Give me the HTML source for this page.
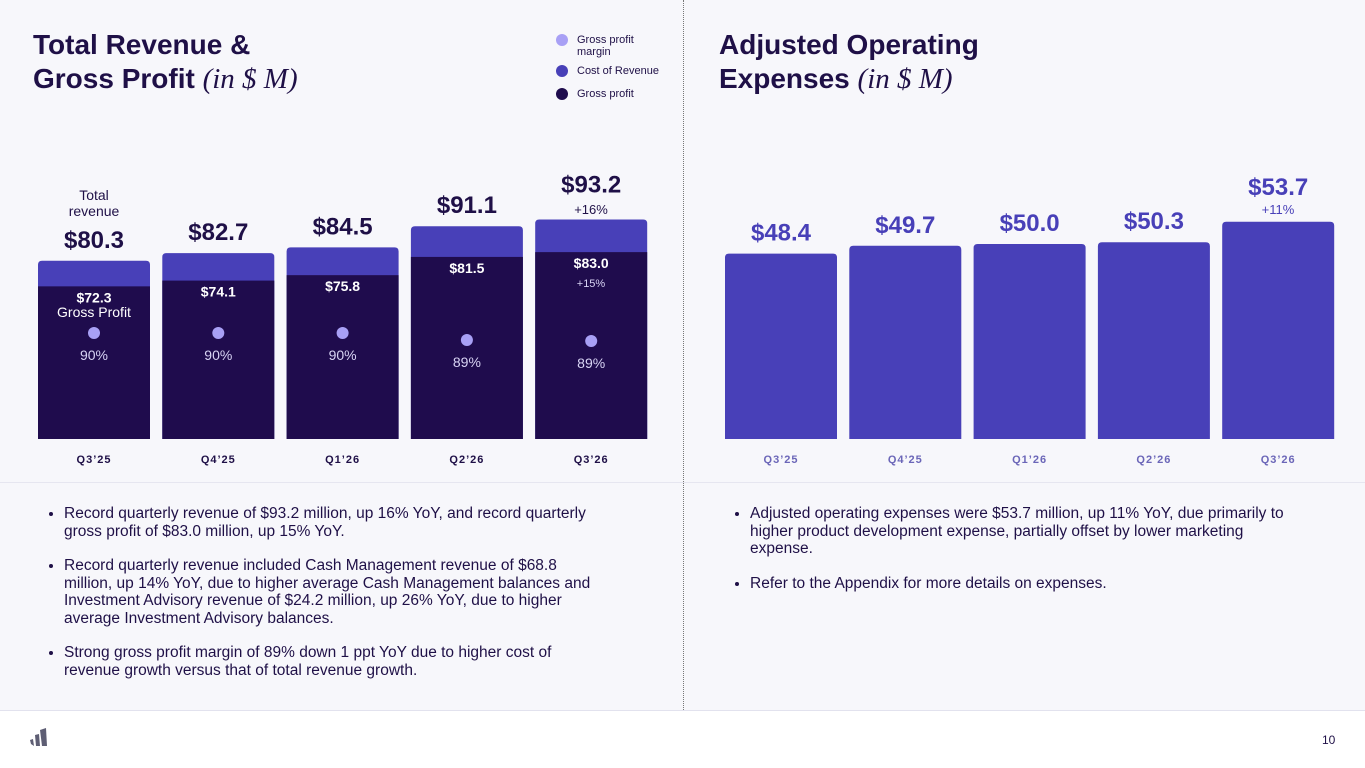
<!DOCTYPE html>
<html><head><meta charset="utf-8"><style>
body{margin:0;width:1365px;height:768px;overflow:hidden;background:#fff;font-family:"Liberation Sans",sans-serif;position:relative}
.top{position:absolute;left:0;top:0;width:1365px;height:710px;background:#f7f7fb;border-bottom:1px solid #e2e2ee}
.t{position:absolute;font-weight:bold;font-size:28px;line-height:34px;color:#1f1047;letter-spacing:0}
.t i{font-family:"Liberation Serif",serif;font-weight:normal;font-size:29px}
.bul{position:absolute;font-size:15.5px;line-height:17.5px;color:#1f1047;margin:0;padding-left:28px}
.bul li{margin-bottom:17px}
.lg{position:absolute;font-size:11px;color:#1f1047;line-height:12px}
.dot{position:absolute;width:12px;height:12px;border-radius:50%}
</style></head><body>
<div class="top"></div>
<div style="position:absolute;left:683px;top:0;height:710px;border-left:1px dotted #777"></div>
<div style="position:absolute;left:0;top:482px;width:1365px;border-top:1px solid #e6e6f0"></div>
<div class="t" style="left:33px;top:28px">Total Revenue &amp;<br>Gross Profit <i>(in $ M)</i></div>
<div class="t" style="left:719px;top:28px">Adjusted Operating<br>Expenses <i>(in $ M)</i></div>
<div>
<div class="dot" style="left:556px;top:34px;background:#a8a0f5"></div>
<div class="lg" style="left:577px;top:34px">Gross profit<br>margin</div>
<div class="dot" style="left:556px;top:65px;background:#4840b8"></div>
<div class="lg" style="left:577px;top:65px">Cost of Revenue</div>
<div class="dot" style="left:556px;top:88px;background:#1f0c4d"></div>
<div class="lg" style="left:577px;top:88px">Gross profit</div>
</div>
<svg id="ch" width="1365" height="768" style="position:absolute;left:0;top:0"></svg>
<ul class="bul" style="left:36px;top:505px;width:545px">
<li>Record quarterly revenue of $93.2 million, up 16% YoY, and record quarterly gross profit of $83.0 million, up 15% YoY.</li>
<li>Record quarterly revenue included Cash Management revenue of $68.8 million, up 14% YoY, due to higher average Cash Management balances and Investment Advisory revenue of $24.2 million, up 26% YoY, due to higher average Investment Advisory balances.</li>
<li>Strong gross profit margin of 89% down 1 ppt YoY due to higher cost of revenue growth versus that of total revenue growth.</li>
</ul>
<ul class="bul" style="left:722px;top:505px;width:555px">
<li>Adjusted operating expenses were $53.7 million, up 11% YoY, due primarily to higher product development expense, partially offset by lower marketing expense.</li>
<li>Refer to the Appendix for more details on expenses.</li>
</ul>
<svg style="position:absolute;left:28px;top:727px" width="22" height="22"><path d="M12 3 L18 1 L19 19 L14 19 Z M7 8 L11 7 L12 19 L8 19 Z M2 13 L5 12 L6 19 L3 17 Z" fill="#5e5e74"/></svg>
<div style="position:absolute;left:1322px;top:733px;font-size:12px;color:#1f1047">10</div>
<script>
const cats=["Q3’25","Q4’25","Q1’26","Q2’26","Q3’26"];
const revenue=[80.3,82.7,84.5,91.1,93.2];
const grossProfit=[72.3,74.1,75.8,81.5,83.0];
const margin=["90%","90%","90%","89%","89%"];
const opex=[48.4,49.7,50.0,50.3,53.7];
const svgEl=document.getElementById('ch');
const NS="http://www.w3.org/2000/svg";
function mk(t,a,txt){const el=document.createElementNS(NS,t);for(const k in a)el.setAttribute(k,a[k]);if(txt!=null)el.textContent=txt;svgEl.appendChild(el);return el;}
const base=439,bw=112;
const yL=v=>base-(v-24.6)*3.2;
const yR=v=>base-(v-17.5)*6;
const xL=i=>38+i*124.3, xR=i=>725+i*124.3;
function barPath(x,y,w){return `M${x},${base}V${y+4}Q${x},${y} ${x+4},${y}H${x+w-4}Q${x+w},${y} ${x+w},${y+4}V${base}Z`;}
cats.forEach((c,i)=>{
 const x=xL(i),cx=x+bw/2;
 let el=mk('path',{d:barPath(x,yL(revenue[i]),bw),fill:'#4840b8'});
 
 
 el=mk('rect',{x:x,y:yL(grossProfit[i]),width:bw,height:base-yL(grossProfit[i]),fill:'#1f0c4d'});
 
 
 const rt=yL(revenue[i]);
 el=mk('text',{x:cx,y:rt-(i==4?27:13),'text-anchor':'middle','font-size':24,'font-weight':'bold',fill:'#1f1047'},'$'+revenue[i].toFixed(1));
 
 
 const gt=yL(grossProfit[i]);
 el=mk('text',{x:cx,y:gt+16,'text-anchor':'middle','font-size':14,'font-weight':'bold',fill:'#fff'},'$'+grossProfit[i].toFixed(1));
 
 
 const dy=i<3?333:i==3?340:341;
 el=mk('circle',{cx:cx,cy:dy,r:6,fill:'#a8a0f5'});
 
 
 el=mk('text',{x:cx,y:dy+27,'text-anchor':'middle','font-size':14,fill:'#d8d4f4'},margin[i]);
 
 
 el=mk('text',{x:cx,y:463,'text-anchor':'middle','font-size':11,'font-weight':'bold',fill:'#1f1047','letter-spacing':1},c);
 
 
 const xr=xR(i),cr=xr+bw/2,ot=yR(opex[i]);
 el=mk('path',{d:barPath(xr,ot,bw),fill:'#4840b8'});
 
 
 el=mk('text',{x:cr,y:ot-(i==4?27:13),'text-anchor':'middle','font-size':24,'font-weight':'bold',fill:'#4840b8'},'$'+opex[i].toFixed(1));
 
 
 el=mk('text',{x:cr,y:463,'text-anchor':'middle','font-size':11,'font-weight':'bold',fill:'#6b66b8','letter-spacing':1},c);
 
 
});
let n=mk('text',{x:94,y:200,'text-anchor':'middle','font-size':14,fill:'#1f1047'},'Total');


n=mk('text',{x:94,y:216,'text-anchor':'middle','font-size':14,fill:'#1f1047'},'revenue');


n=mk('text',{x:94,y:317,'text-anchor':'middle','font-size':14,fill:'#fff'},'Gross Profit');


n=mk('text',{x:591,y:214,'text-anchor':'middle','font-size':13,fill:'#1f1047'},'+16%');


n=mk('text',{x:591,y:287,'text-anchor':'middle','font-size':11,fill:'#d8d4f4'},'+15%');


n=mk('text',{x:1278,y:214,'text-anchor':'middle','font-size':13,fill:'#4840b8'},'+11%');


</script>
</body></html>
